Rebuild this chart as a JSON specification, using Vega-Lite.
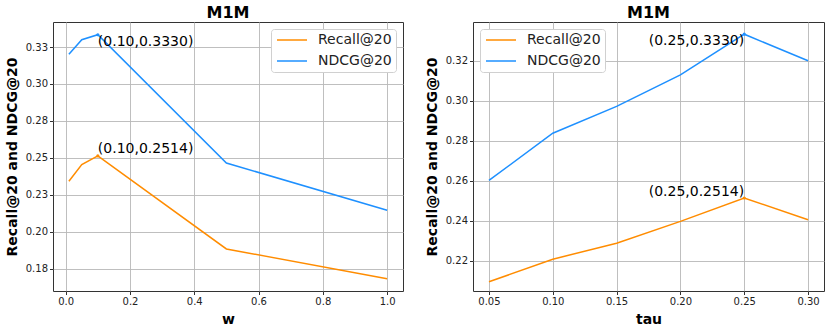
{
  "$schema": "https://vega.github.io/schema/vega-lite/v6.json",
  "padding": {"left": 4, "top": 4, "right": 5, "bottom": 5},
  "background": "white",
  "config": {
    "font": "DejaVu Sans",
    "view": {"stroke": "#333333", "strokeWidth": 1},
    "axis": {
      "domain": false,
      "grid": true,
      "gridColor": "#b8b8b8",
      "gridWidth": 0.9,
      "tickColor": "#333333",
      "tickSize": 3.5,
      "labelFont": "DejaVu Sans",
      "labelFontSize": 10,
      "labelColor": "#222222",
      "labelPadding": 2,
      "titleFont": "DejaVu Sans",
      "titleFontSize": 14,
      "titleFontWeight": "bold",
      "titleColor": "black"
    },
    "axisX": {"titlePadding": 6},
    "axisY": {"titlePadding": 6},
    "title": {"font": "DejaVu Sans", "fontSize": 16, "fontWeight": "bold", "color": "black", "offset": 1},
    "legend": {
      "title": null,
      "labelFont": "DejaVu Sans",
      "labelFontSize": 14,
      "labelColor": "#222222",
      "symbolType": "M-1,0H5",
      "symbolSize": 100,
      "symbolStrokeWidth": 1.5,
      "labelOffset": 29,
      "strokeColor": "#d0d0d0",
      "fillColor": "white",
      "cornerRadius": 3,
      "padding": 4,
      "rowPadding": 7,
      "offset": 7
    }
  },
  "datasets": {
    "w": [
      {"w": 0.01, "metric": "Recall@20", "value": 0.2343},
      {"w": 0.05, "metric": "Recall@20", "value": 0.2455},
      {"w": 0.1, "metric": "Recall@20", "value": 0.2514, "label": "(0.10,0.2514)"},
      {"w": 0.5, "metric": "Recall@20", "value": 0.1885},
      {"w": 1.0, "metric": "Recall@20", "value": 0.1684},
      {"w": 0.01, "metric": "NDCG@20", "value": 0.3201},
      {"w": 0.05, "metric": "NDCG@20", "value": 0.3299},
      {"w": 0.1, "metric": "NDCG@20", "value": 0.3333, "label": "(0.10,0.3330)"},
      {"w": 0.5, "metric": "NDCG@20", "value": 0.2466},
      {"w": 1.0, "metric": "NDCG@20", "value": 0.2147}
    ],
    "tau": [
      {"tau": 0.05, "metric": "Recall@20", "value": 0.2095},
      {"tau": 0.1, "metric": "Recall@20", "value": 0.2208},
      {"tau": 0.15, "metric": "Recall@20", "value": 0.2288},
      {"tau": 0.2, "metric": "Recall@20", "value": 0.2397},
      {"tau": 0.25, "metric": "Recall@20", "value": 0.2514, "label": "(0.25,0.2514)"},
      {"tau": 0.3, "metric": "Recall@20", "value": 0.2405},
      {"tau": 0.05, "metric": "NDCG@20", "value": 0.2602},
      {"tau": 0.1, "metric": "NDCG@20", "value": 0.2838},
      {"tau": 0.15, "metric": "NDCG@20", "value": 0.2972},
      {"tau": 0.2, "metric": "NDCG@20", "value": 0.313},
      {"tau": 0.25, "metric": "NDCG@20", "value": 0.3333, "label": "(0.25,0.3330)"},
      {"tau": 0.3, "metric": "NDCG@20", "value": 0.32}
    ]
  },
  "bounds": "flush",
  "spacing": 70,
  "resolve": {"legend": {"color": "independent"}},
  "hconcat": [
    {
      "width": 350,
      "height": 269,
      "title": "M1M",
      "data": {"name": "w"},
      "encoding": {
        "x": {"field": "w", "type": "quantitative",
              "scale": {"domain": [-0.0395, 1.0495], "nice": false, "zero": false},
              "axis": {"values": [0, 0.2, 0.4, 0.6, 0.8, 1.0], "format": ".1f", "title": "w"}},
        "y": {"field": "value", "type": "quantitative",
              "scale": {"domain": [0.1601, 0.3419], "nice": false, "zero": false},
              "axis": {"values": [0.175, 0.2, 0.225, 0.25, 0.275, 0.3, 0.325],
                       "labelExpr": "format(datum.value + 0.0001, '.2f')",
                       "title": "Recall@20 and NDCG@20"}},
        "color": {"field": "metric", "type": "nominal",
                  "scale": {"domain": ["Recall@20", "NDCG@20"], "range": ["#ff8c00", "#1e90ff"]},
                  "legend": {"orient": "top-right"}}
      },
      "layer": [
        {"mark": {"type": "line", "strokeWidth": 1.5}},
        {"transform": [{"filter": "isValid(datum.label)"}],
         "mark": {"type": "point", "filled": true, "size": 10, "opacity": 1}},
        {"transform": [{"filter": "isValid(datum.label) && datum.metric == 'NDCG@20'"}],
         "mark": {"type": "text", "align": "left", "baseline": "middle", "dy": 7, "fontSize": 14},
         "encoding": {"text": {"field": "label"}, "color": {"value": "black"}}},
        {"transform": [{"filter": "isValid(datum.label) && datum.metric == 'Recall@20'"}],
         "mark": {"type": "text", "align": "left", "baseline": "middle", "dy": -7, "fontSize": 14},
         "encoding": {"text": {"field": "label"}, "color": {"value": "black"}}}
      ]
    },
    {
      "width": 351,
      "height": 269,
      "title": "M1M",
      "data": {"name": "tau"},
      "encoding": {
        "x": {"field": "tau", "type": "quantitative",
              "scale": {"domain": [0.0375, 0.3125], "nice": false, "zero": false},
              "axis": {"values": [0.05, 0.1, 0.15, 0.2, 0.25, 0.3], "format": ".2f", "title": "tau"}},
        "y": {"field": "value", "type": "quantitative",
              "scale": {"domain": [0.2049, 0.3394], "nice": false, "zero": false},
              "axis": {"values": [0.22, 0.24, 0.26, 0.28, 0.3, 0.32], "format": ".2f",
                       "title": "Recall@20 and NDCG@20"}},
        "color": {"field": "metric", "type": "nominal",
                  "scale": {"domain": ["Recall@20", "NDCG@20"], "range": ["#ff8c00", "#1e90ff"]},
                  "legend": {"orient": "top-left"}}
      },
      "layer": [
        {"mark": {"type": "line", "strokeWidth": 1.5}},
        {"transform": [{"filter": "isValid(datum.label)"}],
         "mark": {"type": "point", "filled": true, "size": 10, "opacity": 1}},
        {"transform": [{"filter": "isValid(datum.label) && datum.metric == 'NDCG@20'"}],
         "mark": {"type": "text", "align": "right", "baseline": "middle", "dy": 7, "fontSize": 14},
         "encoding": {"text": {"field": "label"}, "color": {"value": "black"}}},
        {"transform": [{"filter": "isValid(datum.label) && datum.metric == 'Recall@20'"}],
         "mark": {"type": "text", "align": "right", "baseline": "middle", "dy": -6.5, "fontSize": 14},
         "encoding": {"text": {"field": "label"}, "color": {"value": "black"}}}
      ]
    }
  ]
}
